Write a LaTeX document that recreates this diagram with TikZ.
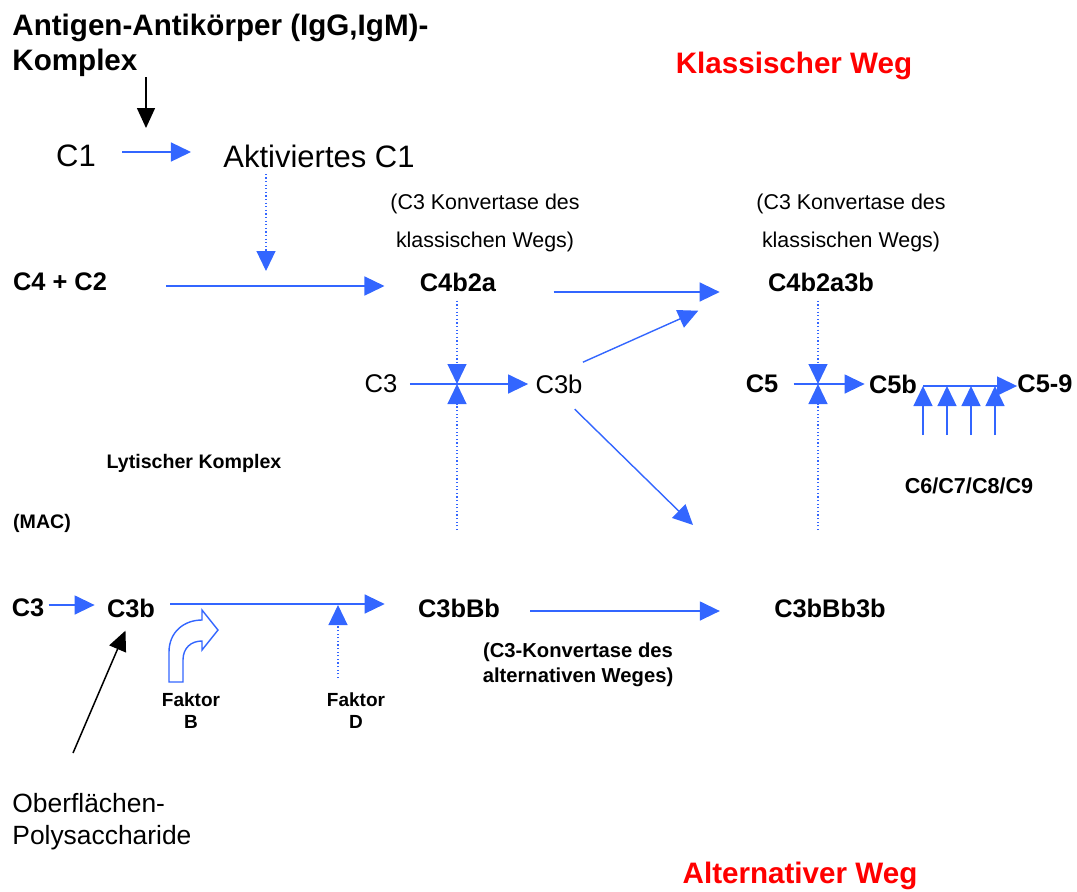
\documentclass[tikz,border=0pt]{standalone}
\usepackage{fontspec}
\setmainfont{Liberation Sans}
\usetikzlibrary{arrows.meta}
\definecolor{pathblue}{RGB}{51,102,255}
\definecolor{wegred}{RGB}{255,0,0}
\begin{document}
\begin{tikzpicture}[x=0.5pt,y=-0.5pt,
	lbl/.style={inner sep=0pt, anchor=center},
	big/.style={lbl, font=\fontsize{15.5}{18}\selectfont},
	norm/.style={lbl, font=\fontsize{12.8}{15}\selectfont},
	bold/.style={lbl, font=\fontsize{12.7}{15}\selectfont\bfseries},
	title/.style={lbl, font=\fontsize{14.8}{17.5}\selectfont\bfseries},
	note/.style={lbl, align=center, font=\fontsize{10.7}{19}\selectfont},
	boldnote/.style={lbl, align=center, font=\fontsize{10.1}{12.5}\selectfont\bfseries},
	flow/.style={draw=pathblue, line width=0.7pt, -{Triangle[length=10pt,width=9.5pt]}},
	hint/.style={flow, line width=0.6pt, dash pattern=on 0.6pt off 1.2pt},
	push/.style={draw=black, line width=0.75pt, -{Triangle[length=10pt,width=9pt]}}]
	\useasboundingbox (0,0) rectangle (1077,891);

	% classical pathway
	\node [title, anchor=north west, align=left] (agak) at (12,14) {Antigen-Antikörper (IgG,IgM)-\\Komplex};
	\node [title, text=wegred] (klw) at (794,66) {Klassischer Weg};

	\node [big] (c1) at (76,156) {C1};
	\node [big] (akc1) at (319,156) {Aktiviertes C1};

	\node [note] (kon1) at (485,223) {(C3 Konvertase des\\klassischen Wegs)};
	\node [note] (kon2) at (851,223) {(C3 Konvertase des\\klassischen Wegs)};

	\node [bold] (c4c2) at (60,282) {C4 + C2};
	\node [bold] (c4b2a) at (458,282) {C4b2a};
	\node [bold] (c4b2a3b) at (821,282) {C4b2a3b};

	\node [norm] (c3k) at (381,384) {C3};
	\node [norm] (c3bk) at (559,384) {C3b};

	\node [bold] (c5) at (762,384) {C5};
	\node [bold] (c5b) at (893,384) {C5b};
	\node [bold] (c59) at (1045,384) {C5-9};

	\node [boldnote, font=\fontsize{10.8}{13}\selectfont\bfseries] (c69) at (969,486) {C6/C7/C8/C9};
	\node [boldnote, font=\fontsize{9.8}{12}\selectfont\bfseries] (lyt) at (194,463) {Lytischer Komplex};
	\node [boldnote, font=\fontsize{9.8}{12}\selectfont\bfseries] (mac) at (42,523) {(MAC)};

	% alternative pathway
	\node [bold] (c3a) at (28,608) {C3};
	\node [bold] (c3ba) at (131,608) {C3b};
	\node [bold] (c3bbb) at (459,608) {C3bBb};
	\node [bold] (c3bbb3b) at (830,608) {C3bBb3b};

	\node [boldnote] (konalt) at (578,665) {(C3-Konvertase des\\alternativen Weges)};
	\node [boldnote, font=\fontsize{9.5}{11}\selectfont\bfseries] (fb) at (191,711) {Faktor\\B};
	\node [boldnote, font=\fontsize{9.5}{11}\selectfont\bfseries] (fd) at (356,711) {Faktor\\D};

	\node [lbl, anchor=west, align=left, font=\fontsize{13.2}{16}\selectfont] (obpoly) at (12,822) {Oberflächen-\\Polysaccharide};
	\node [title, text=wegred] (alw) at (800,876) {Alternativer Weg};

	% free ends
	\coordinate (c1in) at (146,128);
	\coordinate (akin) at (266,271);
	\coordinate (x1) at (457,384);
	\coordinate (x1d) at (457,530);
	\coordinate (x2) at (818,384);
	\coordinate (x2d) at (818,530);
	\coordinate (c3bout) at (693,525);
	\coordinate (fdin) at (338,678);
	\coordinate (fdtop) at (338,605);
	\coordinate (obin) at (73,753);

	\draw [push] (agak.south -| c1in) to (c1in);
	\draw [flow, shorten <=13pt, shorten >=16pt] ([yshift=2pt]c1.east) to ([yshift=2pt]akc1.west);
	\draw [hint, shorten <=3pt] (akc1.south -| akin) to (akin);

	\draw [flow, shorten <=29.5pt, shorten >=17.5pt] ([yshift=-2pt]c4c2.east) to ([yshift=-2pt]c4b2a.west);
	\draw [flow, shorten <=28.5pt, shorten >=24pt] ([yshift=-5pt]c4b2a.east) to ([yshift=-5pt]c4b2a3b.west);

	\draw [flow, shorten <=6pt, shorten >=3.5pt] (c3k.east) to (c3bk.west);
	\draw [hint, shorten <=4.5pt] (c4b2a.south -| x1) to (x1);
	\draw [hint] (x1d) to (x1);

	\draw [flow, shorten <=7.5pt, shorten >=2pt] (c5.east) to (c5b.west);
	\draw [hint, shorten <=4.5pt] (c4b2a3b.south -| x2) to (x2);
	\draw [hint] (x2d) to (x2);

	\draw [flow, shorten <=3pt] ([yshift=-1pt]c5b.east) to ([yshift=-1pt]c59.west);
	\foreach \x [count=\i] in {923,947,971,995} {
		\coordinate (up\i) at (\x,435);
		\draw [flow] (up\i) to (\x,386);
	}

	\draw [flow, shorten >=38pt] ([yshift=6pt]c3bk.north east) to ([yshift=6pt]c4b2a3b.south west);
	\draw [flow, shorten <=11pt] (c3bk.south) to (c3bout);

	\draw [flow, shorten <=2pt, shorten >=6pt] ([yshift=1.5pt]c3a.east) to ([yshift=1.5pt]c3ba.west);
	\draw [flow, shorten <=7.5pt, shorten >=16.5pt] ([yshift=2pt]c3ba.east) to ([yshift=2pt]c3bbb.west);
	\draw [flow, shorten <=15pt, shorten >=27pt] ([yshift=-1.5pt]c3bbb.east) to ([yshift=-1.5pt]c3bbb3b.west);

	\draw [hint] (fdin) to (fdtop);
	\draw [push, shorten >=7pt] (obin) to (c3ba.south);

	% Faktor B
	\draw [pathblue, line width=0.7pt, fill=white] (169,682) -- (169,652) .. controls (169,632) and (184,620) .. (202,620) -- (202,610) -- (218,630) -- (202,650) -- (202,641) .. controls (191,641) and (183,648) .. (183,660) -- (183,682) -- cycle;
\end{tikzpicture}
\end{document}
